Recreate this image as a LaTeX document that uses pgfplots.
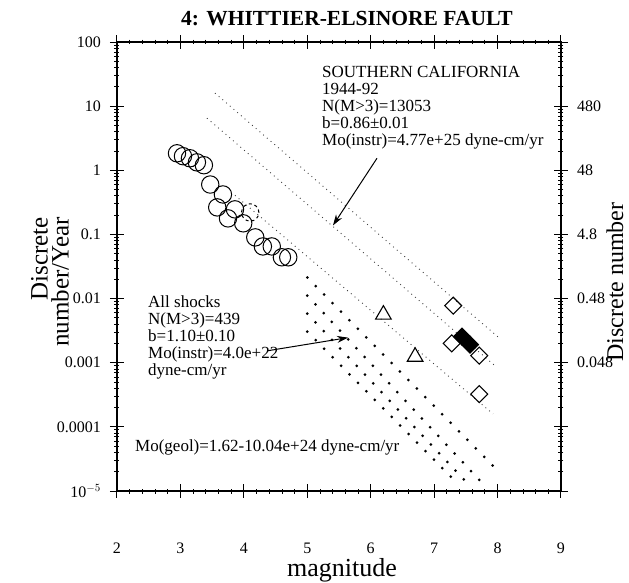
\documentclass[border=0pt]{standalone}
\usepackage{pgfplots}
\usepackage{pgfplotstable}
\pgfplotsset{compat=1.18}
\usetikzlibrary{arrows.meta}
\usepackage{fontspec}
\setmainfont{Liberation Serif}

% circles (all shocks)
\pgfplotstableread{
x y
2.946 1.84
3.04 1.66
3.15 1.54
3.26 1.33
3.37 1.20
3.47 0.60
3.67 0.42
3.58 0.264
3.86 0.246
3.75 0.178
3.99 0.149
4.18 0.090
4.30 0.065
4.44 0.065
4.60 0.044
4.70 0.044
}\circles

\begin{document}
\begin{tikzpicture}
\path[use as bounding box] (-117pt,-91pt) rectangle (512pt,491pt);
\begin{axis}[
  at={(0pt,0pt)}, anchor=south west, scale only axis,
  width=444pt, height=449pt,
  xmin=2, xmax=9, ymode=log, ymin=1e-5, ymax=100,
  xtick={2,3,4,5,6,7,8,9}, minor x tick num=4,
  xticklabels={2,3,4,5,6,7,8,9},
  ytick={1e-5,1e-4,1e-3,1e-2,0.1,1,10,100},
  yticklabels={10$^{-5}$,0.0001,0.001,0.01,0.1,1,10,100},
  tick align=center,
  major tick length=14pt, minor tick length=5pt,
  every major tick/.style={line width=1pt, black},
  every minor tick/.style={line width=0.8pt, black},
  axis line style={line width=2.8pt},
  xticklabel style={font=\fontsize{16}{16}\selectfont, anchor=base, inner sep=0pt, yshift=-55.5pt},
  yticklabel style={font=\fontsize{16}{16}\selectfont, anchor=east, inner sep=0pt, xshift=-9pt},
]
% fine dotted Southern California lines
\addplot[black!75, line width=0.9pt, dash pattern=on 0.9pt off 4pt] coordinates {(3.545,15.96) (8.038,0.00237)};
\addplot[black!75, line width=0.9pt, dash pattern=on 0.9pt off 4pt] coordinates {(3.419,6.49) (7.959,0.000898)};
\addplot[black!75, line width=0.9pt, dash pattern=on 0.9pt off 4pt] coordinates {(3.860,0.407) (7.928,0.0001596)};
% heavy dotted geologic lines
\addplot[black, line width=3pt, line cap=round, dash pattern=on 0pt off 12pt] coordinates {(5.0,0.0213) (8.04,1.91e-5)};
\addplot[black, line width=3pt, line cap=round, dash pattern=on 0pt off 12pt] coordinates {(5.0,0.01114) (7.80,1.2e-5)};
\addplot[black, line width=3pt, line cap=round, dash pattern=on 0pt off 12pt] coordinates {(5.0,0.00583) (7.565,1.2e-5)};
\addplot[black, line width=3pt, line cap=round, dash pattern=on 0pt off 12pt] coordinates {(5.0,0.00305) (7.376,1.29e-5)};
% circles
\addplot[only marks, mark=o, mark size=8.7pt, mark options={line width=1pt, black}] table {\circles};
\addplot[only marks, mark=o, mark size=8.7pt, mark options={line width=1pt, black, dashed}] coordinates {(4.10,0.22)};
% triangles
\addplot[only marks, mark=triangle, mark size=9pt, mark options={line width=1.1pt, black}] coordinates {(6.20,0.00562) (6.70,0.00124)};
% diamonds
\addplot[only marks, mark=square, mark size=6pt, mark options={rotate=45, line width=1.1pt, black}] coordinates {(7.30,0.00776) (7.277,0.0020) (7.71,0.00129) (7.71,0.000324)};
\addplot[only marks, mark=square*, mark size=6pt, mark options={rotate=45, line width=1.1pt, black, fill=black}] coordinates {(7.44,0.00255) (7.565,0.00191)};
% arrows
\draw[-{Stealth[length=11pt,width=7pt]}, line width=1pt] (axis cs:6.099,1.54) -- (axis cs:5.405,0.138);
\draw[-{Stealth[length=11pt,width=7pt]}, line width=1pt] (axis cs:4.381,0.00154) -- (axis cs:5.642,0.00246);
\end{axis}
\begin{axis}[
  at={(0pt,0pt)}, anchor=south west, scale only axis,
  width=444pt, height=449pt,
  xmin=2, xmax=9, ymode=log, ymin=1e-5, ymax=100,
  hide x axis, axis y line*=right, y axis line style={draw=none},
  ytick={0.001,0.01,0.1,1,10},
  yticklabels={0.048,0.48,4.8,48,480},
  major tick length=0pt, yminorticks=false,
  yticklabel style={font=\fontsize{16}{16}\selectfont, anchor=west, inner sep=0pt, xshift=16pt},
]
\end{axis}
% texts
\node[font=\fontsize{21.5}{24}\selectfont\bfseries, anchor=base] at (230pt,465pt) {4: WHITTIER-ELSINORE FAULT};
\node[font=\fontsize{25}{21}\selectfont, rotate=90, align=right, anchor=east, inner sep=0pt] at (-67pt,274pt) {Discrete\\number/Year};
\node[font=\fontsize{24}{24}\selectfont, rotate=90, inner sep=0pt] at (498pt,209pt) {Discrete number};
\node[font=\fontsize{26}{26}\selectfont, anchor=base, inner sep=0pt] at (225pt,-85pt) {magnitude};
\node[font=\fontsize{17}{17}\selectfont, align=left, anchor=north west, inner sep=0pt] at (205pt,425pt) {SOUTHERN CALIFORNIA\\1944-92\\N(M>3)=13053\\b=0.86±0.01\\Mo(instr)=4.77e+25 dyne-cm/yr};
\node[font=\fontsize{17}{17}\selectfont, align=left, anchor=north west, inner sep=0pt] at (31pt,195pt) {All shocks\\N(M>3)=439\\b=1.10±0.10\\Mo(instr)=4.0e+22\\dyne-cm/yr};
\node[font=\fontsize{17}{17}\selectfont, anchor=west, inner sep=0pt] at (18pt,44pt) {Mo(geol)=1.62-10.04e+24 dyne-cm/yr};
\end{tikzpicture}
\end{document}
